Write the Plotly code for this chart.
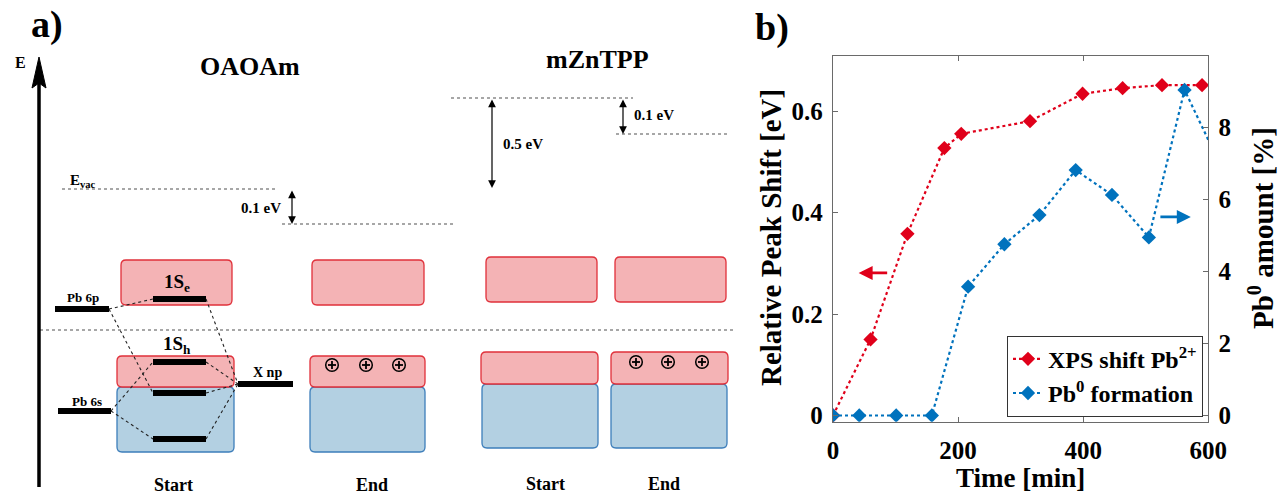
import plotly.graph_objects as go

# ---------------- data (panel b) ----------------
time_xps = [0, 60, 119, 178, 205, 315, 399, 463, 526, 590]
shift_xps = [0, 0.150, 0.358, 0.527, 0.555, 0.580, 0.634, 0.645, 0.651, 0.651]

time_pb0 = [0, 42, 101, 158, 216, 274, 330, 388, 446, 505, 562, 620]
amount_pb0 = [0, 0, 0, 0, 3.58, 4.76, 5.57, 6.82, 6.13, 4.95, 9.05, 6.93]

x_ticks = [0, 200, 400, 600]
y_left_ticks = [0, 0.2, 0.4, 0.6]
y_right_ticks = [0, 2, 4, 6, 8]

RED = "#E0001A"
BLUE = "#0072BD"
FONT = "Liberation Serif"

# ---------------- schematic (panel a), in pixel-like units ----------------
PINK_FILL, PINK_LINE = "#F4B3B5", "#E0303A"
BLUE_FILL, BLUE_LINE = "#B3D0E2", "#3D7EBA"

boxes = [  # x0, x1, y0, y1, kind  (blue first so pink lies on top)
    (121, 232, 260, 305, "p"), (117, 234, 387, 452, "b"), (117, 234, 356, 387, "p"),
    (312, 424, 260, 305, "p"), (310, 425, 387, 452, "b"), (310, 425, 356, 387, "p"),
    (486, 597, 257, 302, "p"), (482, 598, 384, 448, "b"), (481, 598, 352, 384, "p"),
    (615, 726, 257, 302, "p"), (611, 727, 384, 448, "b"), (611, 728, 352, 384, "p"),
]
bars = [  # x0, x1, y
    (55, 109, 309), (153, 206, 299), (153, 206, 362), (153, 206, 393),
    (153, 206, 439), (58, 111, 411), (238, 293, 384),
]
connectors = [
    ((109, 309), (153, 299)), ((109, 309), (153, 393)),
    ((206, 299), (238, 384)), ((111, 411), (153, 362)),
    ((111, 411), (153, 439)), ((206, 362), (238, 384)),
    ((206, 393), (238, 384)), ((206, 439), (238, 384)),
]
dotted = [(62, 275, 189), (282, 455, 224), (451, 633, 98), (616, 730, 134), (40, 735, 330)]
double_arrows = [(292, 189, 224), (492, 98, 188), (623, 98, 134)]
holes = [(332, 365), (366, 365), (399, 365), (636, 362), (668, 362), (702, 362)]
labels = [  # text, x, y, size, xanchor
    ("a)", 47, 24, 38, "center"),
    ("b)", 772, 27, 38, "center"),
    ("E", 20, 62, 16, "center"),
    ("OAOAm", 250, 66, 26, "center"),
    ("mZnTPP", 597, 59, 26, "center"),
    ("E<sub>vac</sub>", 68, 181, 15, "left"),
    ("0.1 eV", 283, 208, 15, "right"),
    ("0.5 eV", 501, 144, 15, "left"),
    ("0.1 eV", 632, 115, 15, "left"),
    ("1S<sub>e</sub>", 177, 283, 19, "center"),
    ("1S<sub>h</sub>", 177, 345, 19, "center"),
    ("Pb 6p", 83, 297, 13, "center"),
    ("Pb 6s", 87, 401, 13, "center"),
    ("X np", 267, 372, 14, "center"),
    ("Start", 173, 485, 18, "center"),
    ("End", 372, 485, 18, "center"),
    ("Start", 545, 484, 18, "center"),
    ("End", 664, 484, 18, "center"),
]

fig = go.Figure()

# panel b traces
fig.add_trace(go.Scatter(
    x=time_xps, y=shift_xps, name="XPS shift Pb<sup>2+</sup>", mode="lines+markers",
    line=dict(color=RED, width=2.2, dash="dot"),
    marker=dict(symbol="diamond", size=11, color=RED), xaxis="x", yaxis="y"))
fig.add_trace(go.Scatter(
    x=time_pb0, y=amount_pb0, name="Pb<sup>0</sup> formation", mode="lines+markers",
    line=dict(color=BLUE, width=2.2, dash="dot"),
    marker=dict(symbol="diamond", size=11, color=BLUE), xaxis="x", yaxis="y2"))
# invisible anchor trace for the schematic axes
fig.add_trace(go.Scatter(x=[0], y=[0], mode="markers", marker=dict(opacity=0),
                         showlegend=False, hoverinfo="skip", xaxis="x2", yaxis="y3"))

shapes = []
SX, SY = "x2", "y3"


def rrect(x0, x1, y0, y1, r=5):
    return (f"M {x0+r},{y0} L {x1-r},{y0} Q {x1},{y0} {x1},{y0+r} L {x1},{y1-r} "
            f"Q {x1},{y1} {x1-r},{y1} L {x0+r},{y1} Q {x0},{y1} {x0},{y1-r} "
            f"L {x0},{y0+r} Q {x0},{y0} {x0+r},{y0} Z")


for (x0, x1, y0, y1, k) in boxes:
    fc, lc = (PINK_FILL, PINK_LINE) if k == "p" else (BLUE_FILL, BLUE_LINE)
    shapes.append(dict(type="path", path=rrect(x0, x1, y0, y1), xref=SX, yref=SY,
                       fillcolor=fc, line=dict(color=lc, width=1.3), layer="above"))
for (a, b) in connectors:
    shapes.append(dict(type="line", x0=a[0], y0=a[1], x1=b[0], y1=b[1], xref=SX, yref=SY,
                       line=dict(color="#222222", width=1.1, dash="dot")))
for (x0, x1, y) in bars:
    shapes.append(dict(type="rect", x0=x0, x1=x1, y0=y - 3, y1=y + 3, xref=SX, yref=SY,
                       fillcolor="black", line=dict(width=0)))
for (x0, x1, y) in dotted:
    shapes.append(dict(type="line", x0=x0, x1=x1, y0=y, y1=y, xref=SX, yref=SY,
                       line=dict(color="#8a8a8a", width=1.3, dash="dot")))
for (cx, cy) in holes:
    r = 6.3
    shapes.append(dict(type="circle", x0=cx - r, x1=cx + r, y0=cy - r, y1=cy + r,
                       xref=SX, yref=SY, line=dict(color="black", width=1.5)))
    shapes.append(dict(type="line", x0=cx - 4, x1=cx + 4, y0=cy, y1=cy, xref=SX, yref=SY,
                       line=dict(color="black", width=1.8)))
    shapes.append(dict(type="line", x0=cx, x1=cx, y0=cy - 4, y1=cy + 4, xref=SX, yref=SY,
                       line=dict(color="black", width=1.8)))
# energy axis arrow
shapes.append(dict(type="line", x0=39, x1=39, y0=487, y1=80, xref=SX, yref=SY,
                   line=dict(color="black", width=3.5)))
shapes.append(dict(type="path", path="M 39,57 L 46,88 L 39,83 L 32,88 Z", xref=SX, yref=SY,
                   fillcolor="black", line=dict(color="black", width=1)))

annotations = []
for (t, x, y, s, xa) in labels:
    annotations.append(dict(text=t, x=x, y=y, xref=SX, yref=SY, showarrow=False,
                            xanchor=xa, yanchor="middle",
                            font=dict(family=FONT, size=s, color="black", weight="bold")))
for (x, y0, y1) in double_arrows:
    annotations.append(dict(text="", x=x, y=y1, ax=x, ay=y0, xref=SX, yref=SY,
                            axref=SX, ayref=SY, showarrow=True, arrowhead=2,
                            arrowside="end+start", arrowsize=1.3, arrowwidth=1.2,
                            arrowcolor="black"))

# panel b arrows
annotations.append(dict(text="", x=41, y=0.281, ax=89, ay=0.281, xref="x", yref="y",
                        axref="x", ayref="y", showarrow=True, arrowhead=2, arrowsize=1,
                        arrowwidth=2.8, arrowcolor=RED))
annotations.append(dict(text="", x=572, y=5.52, ax=521, ay=5.52, xref="x", yref="y2",
                        axref="x", ayref="y2", showarrow=True, arrowhead=2, arrowsize=1,
                        arrowwidth=2.8, arrowcolor=BLUE))
# panel b axis titles
annotations.append(dict(text="Time [min]", x=1020, y=478, xref=SX, yref=SY, showarrow=False,
                        font=dict(family=FONT, size=27, color="black", weight="bold")))
annotations.append(dict(text="Relative Peak Shift [eV]", x=771, y=238, xref=SX, yref=SY,
                        showarrow=False, textangle=-90,
                        font=dict(family=FONT, size=29, color="black", weight="bold")))
annotations.append(dict(text="Pb<sup>0</sup> amount [%]", x=1261, y=228, xref=SX, yref=SY,
                        showarrow=False, textangle=-90,
                        font=dict(family=FONT, size=29, color="black", weight="bold")))

AX_COLOR = "#6a6a6a"
tickfont = dict(family=FONT, size=25, color="black", weight="bold")
W, H = 1280, 498
xd = [833 / W, 1208.3 / W]
yd = [1 - 421.7 / H, 1 - 55.7 / H]

fig.update_layout(
    width=W, height=H, autosize=False,
    margin=dict(l=0, r=0, t=0, b=0, pad=0, autoexpand=False),
    plot_bgcolor="rgba(0,0,0,0)", paper_bgcolor="white",
    shapes=shapes, annotations=annotations,
    xaxis=dict(domain=xd, range=[0, 600], tickvals=x_ticks, ticks="inside", ticklen=5,
               tickcolor=AX_COLOR, showline=True, linecolor=AX_COLOR, linewidth=1.3,
               mirror="ticks", showgrid=False, zeroline=False, tickfont=tickfont,
               anchor="y", automargin=False, ticklabelstandoff=6),
    yaxis=dict(domain=yd, range=[-0.0122, 0.709], tickvals=y_left_ticks, ticks="inside",
               ticklen=5, tickcolor=AX_COLOR, showline=True, linecolor=AX_COLOR,
               linewidth=1.3, showgrid=False, zeroline=False, tickfont=tickfont,
               anchor="x", ticklabelstandoff=4, automargin=False),
    yaxis2=dict(range=[-0.172, 10.0], tickvals=y_right_ticks, ticks="inside", ticklen=5,
                tickcolor=AX_COLOR, showline=True, linecolor=AX_COLOR, linewidth=1.3,
                showgrid=False, zeroline=False, tickfont=tickfont, overlaying="y",
                side="right", anchor="x", ticklabelstandoff=4, automargin=False),
    xaxis2=dict(domain=[0, 1], range=[0, W], visible=False, anchor="y3", fixedrange=True),
    yaxis3=dict(domain=[0, 1], range=[H, 0], visible=False, anchor="x2", fixedrange=True),
    legend=dict(x=1203 / W, xanchor="right", y=1 - 416.7 / H, yanchor="bottom",
                bgcolor="white", bordercolor="#333333", borderwidth=1,
                font=dict(family=FONT, size=24, color="black", weight="bold"),
                tracegroupgap=0, itemwidth=30),
    showlegend=True,
)

fig.write_html("out.html")
